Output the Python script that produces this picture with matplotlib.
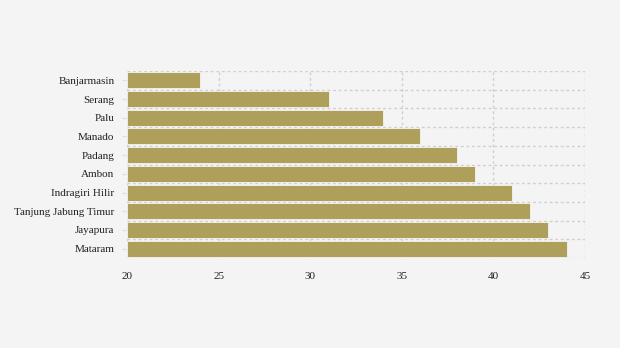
import matplotlib
matplotlib.use("Agg")
import matplotlib.pyplot as plt
import numpy as np

categories = ["Banjarmasin", "Serang", "Palu", "Manado", "Padang", "Ambon",
              "Indragiri Hilir", "Tanjung Jabung Timur", "Jayapura", "Mataram"]
values = [24, 31, 34, 36, 38, 39, 41, 42, 43, 44]
xticks = [20, 25, 30, 35, 40, 45]

plt.rcParams['font.family'] = ['Liberation Serif', 'DejaVu Serif']

fig = plt.figure(figsize=(6.2, 3.48), dpi=100, facecolor="#f4f4f4")
ax = fig.add_axes([127/620, 1-258/348, (585-127)/620, (258-71)/348])
ax.set_facecolor("#f4f4f4")

y = np.arange(len(categories))
ax.barh(y, [v - 20 for v in values], left=20, height=0.86, color="#ae9f5a",
        edgecolor="#f4f4f4", linewidth=0.6, zorder=3)
ax.set_xlim(20, 45)
ax.set_ylim(len(categories) - 0.5, -0.5)
ax.set_yticks(y)
ax.set_yticklabels(categories, fontsize=8, color="#222222")
ax.set_xticks(xticks)
ax.set_xticklabels([str(t) for t in xticks], fontsize=8, color="#222222")
ax.set_yticks(np.arange(-0.5, len(categories)), minor=True)
ax.tick_params(axis='y', which='major', length=3.6, color="#dddddd", pad=5.5)
ax.tick_params(axis='y', which='minor', length=0)
ax.tick_params(axis='x', length=0, pad=10)
ax.grid(axis='x', which='major', linestyle=(0, (2, 2)), color="#cfcfcf", linewidth=1, zorder=0)
ax.grid(axis='y', which='minor', linestyle=(0, (2, 2)), color="#cfcfcf", linewidth=1, zorder=0)
for s in ax.spines.values():
    s.set_visible(False)

fig.savefig("out.png", dpi=100, facecolor=fig.get_facecolor())
